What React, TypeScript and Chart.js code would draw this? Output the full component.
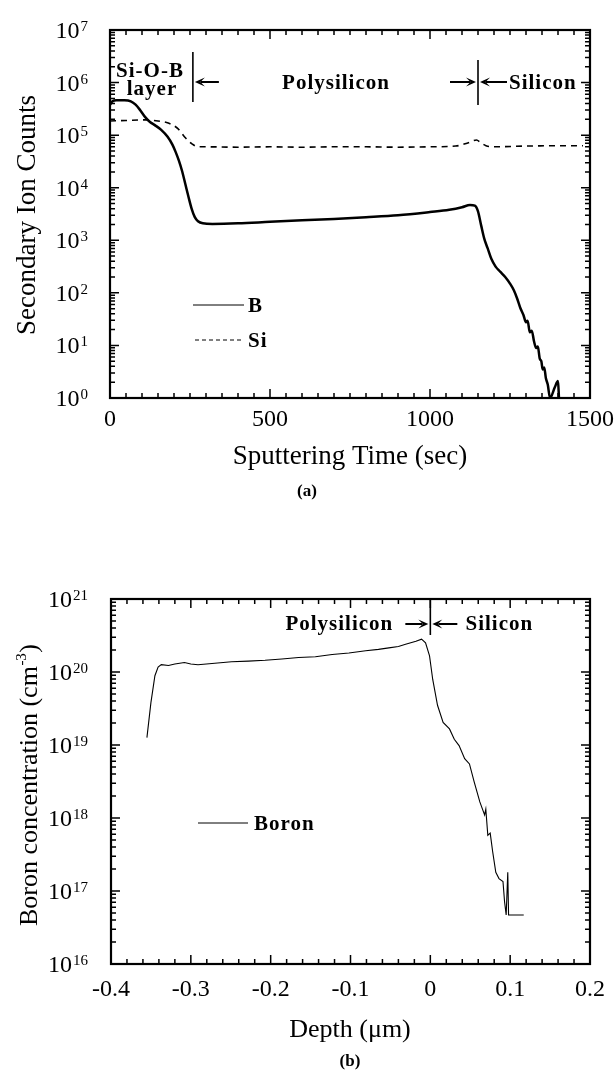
import React, { useEffect, useRef } from "react";
import { Chart, registerables } from "chart.js";

Chart.register(...registerables);

const SERIF = '"Liberation Serif", "Times New Roman", Times, serif';

// ---------- (a) SIMS profile: secondary ion counts vs sputtering time ----------
const timeB = [0, 8, 20, 45, 65, 80, 95, 110, 125, 140, 160, 180, 195, 205, 215, 225, 235, 245, 255, 265, 275, 290, 320, 400, 500, 600, 700, 800, 900, 1000, 1060, 1100, 1125, 1140, 1150, 1160, 1170, 1180, 1192, 1205, 1220, 1235, 1250, 1262, 1272, 1282, 1292, 1300, 1305, 1312, 1318, 1325, 1332, 1337, 1343, 1348, 1352, 1357, 1362, 1368, 1375, 1390, 1400, 1403];
const countsB = [3.8e5, 4.4e5, 4.6e5, 4.6e5, 4.4e5, 3.8e5, 2.95e5, 2.2e5, 1.78e5, 1.55e5, 1.26e5, 9.3e4, 6.6e4, 4.8e4, 3.3e4, 2.1e4, 1.2e4, 6.8e3, 4.0e3, 2.75e3, 2.3e3, 2.1e3, 2.05e3, 2.1e3, 2.25e3, 2.4e3, 2.55e3, 2.75e3, 3.0e3, 3.45e3, 3.8e3, 4.25e3, 4.7e3, 4.55e3, 3.55e3, 1.9e3, 1.05e3, 710, 440, 316, 250, 200, 150, 112, 79, 52, 38, 27.5, 29.5, 17.8, 19, 12, 8.9, 9.5, 5.6, 5.0, 3.5, 3.8, 2.4, 1.8, 1, 1.6, 2.1, 1];
const timeSi = [0, 50, 110, 150, 182, 213, 234, 255, 275, 300, 400, 500, 600, 700, 800, 900, 1000, 1080, 1120, 1145, 1160, 1175, 1200, 1300, 1400, 1478];
const countsSi = [1.86e5, 1.9e5, 1.95e5, 1.86e5, 1.7e5, 1.32e5, 9.1e4, 6.9e4, 6.0e4, 6.0e4, 5.9e4, 6.0e4, 5.9e4, 6.0e4, 6.0e4, 5.9e4, 6.0e4, 6.2e4, 7.2e4, 8.1e4, 7.1e4, 6.3e4, 6.0e4, 6.2e4, 6.3e4, 6.3e4];
const timeTicks = [0, 500, 1000, 1500];
const timeTickLabels = ["0", "500", "1000", "1500"];
const countExponents = [0, 1, 2, 3, 4, 5, 6, 7];
const layerBoundsTime = [259, 1150];

// ---------- (b) Boron concentration vs depth ----------
const depth = [-0.355, -0.35, -0.345, -0.341, -0.337, -0.328, -0.32, -0.308, -0.3, -0.291, -0.27, -0.249, -0.228, -0.207, -0.186, -0.165, -0.144, -0.123, -0.102, -0.081, -0.065, -0.052, -0.04, -0.031, -0.018, -0.011, -0.006, -0.001, 0.003, 0.009, 0.016, 0.024, 0.03, 0.036, 0.043, 0.049, 0.055, 0.062, 0.066, 0.068, 0.0695, 0.072, 0.075, 0.078, 0.082, 0.086, 0.091, 0.093, 0.095, 0.097, 0.098, 0.117];
const boron = [1.26e19, 3.8e19, 8.9e19, 1.17e20, 1.26e20, 1.23e20, 1.29e20, 1.35e20, 1.29e20, 1.26e20, 1.32e20, 1.38e20, 1.41e20, 1.45e20, 1.51e20, 1.58e20, 1.62e20, 1.74e20, 1.82e20, 1.95e20, 2.04e20, 2.14e20, 2.24e20, 2.4e20, 2.63e20, 2.82e20, 2.51e20, 1.66e20, 7.9e19, 3.5e19, 2.04e19, 1.66e19, 1.2e19, 9.8e18, 6.5e18, 5.5e18, 3.1e18, 1.66e18, 1.26e18, 1.1e18, 1.32e18, 5.8e17, 6.2e17, 3.5e17, 1.8e17, 1.48e17, 1.35e17, 7.1e16, 4.7e16, 1.8e17, 4.7e16, 4.7e16];
const depthTicks = [-0.4, -0.3, -0.2, -0.1, 0, 0.1, 0.2];
const depthTickLabels = ["-0.4", "-0.3", "-0.2", "-0.1", "0", "0.1", "0.2"];
const concExponents = [16, 17, 18, 19, 20, 21];
const layerBoundsDepth = [0];

type FrameCfg = {
  xMin: number;
  xMax: number;
  xTicks: number[];
  xTickLabels: string[];
  xMinorStep: number;
  yExps: number[];
  xLabelGap: number;
  yLabelRight: number;
  tickFont: number;
  expFont: number;
  extras: (ctx: CanvasRenderingContext2D, chart: any) => void;
};

function setSpacing(ctx: any, v: string) {
  if ("letterSpacing" in ctx) ctx.letterSpacing = v;
}

function boldText(ctx: CanvasRenderingContext2D, s: string, x: number, y: number, align: CanvasTextAlign, size = 21) {
  ctx.font = `bold ${size}px ${SERIF}`;
  setSpacing(ctx, "1px");
  ctx.textAlign = align;
  ctx.textBaseline = "alphabetic";
  ctx.fillText(s, x, y);
  setSpacing(ctx, "0px");
}

function arrow(ctx: CanvasRenderingContext2D, xFrom: number, y: number, xTo: number) {
  const dir = Math.sign(xTo - xFrom);
  const headLen = 10;
  const hw = 4.5;
  ctx.lineWidth = 2;
  ctx.beginPath();
  ctx.moveTo(xFrom, y);
  ctx.lineTo(xTo - dir * headLen * 0.6, y);
  ctx.stroke();
  ctx.beginPath();
  ctx.moveTo(xTo, y);
  ctx.lineTo(xTo - dir * headLen, y - hw);
  ctx.lineTo(xTo - dir * headLen * 0.55, y);
  ctx.lineTo(xTo - dir * headLen, y + hw);
  ctx.closePath();
  ctx.fill();
}

function vline(ctx: CanvasRenderingContext2D, x: number, y1: number, y2: number) {
  ctx.lineWidth = 1.6;
  ctx.beginPath();
  ctx.moveTo(x, y1);
  ctx.lineTo(x, y2);
  ctx.stroke();
}

function framePlugin(cfg: FrameCfg) {
  return {
    id: "frame",
    afterDraw(chart: any) {
      const ctx: CanvasRenderingContext2D = chart.ctx;
      const { left, right, top, bottom } = chart.chartArea;
      const xs = chart.scales.x;
      const ys = chart.scales.y;
      ctx.save();
      ctx.strokeStyle = "#000";
      ctx.fillStyle = "#000";
      ctx.lineWidth = 1.5;
      ctx.beginPath();
      const n = Math.round((cfg.xMax - cfg.xMin) / cfg.xMinorStep);
      for (let i = 0; i <= n; i++) {
        const v = cfg.xMin + i * cfg.xMinorStep;
        const px = xs.getPixelForValue(v);
        const major = cfg.xTicks.some((t) => Math.abs(t - v) < cfg.xMinorStep / 10);
        const len = major ? 9 : 5;
        ctx.moveTo(px, bottom);
        ctx.lineTo(px, bottom - len);
        ctx.moveTo(px, top);
        ctx.lineTo(px, top + len);
      }
      cfg.yExps.forEach((e, i) => {
        const base = Math.pow(10, e);
        const py = ys.getPixelForValue(base);
        ctx.moveTo(left, py);
        ctx.lineTo(left + 9, py);
        ctx.moveTo(right, py);
        ctx.lineTo(right - 9, py);
        if (i < cfg.yExps.length - 1) {
          for (let k = 2; k <= 9; k++) {
            const pm = ys.getPixelForValue(k * base);
            ctx.moveTo(left, pm);
            ctx.lineTo(left + 5, pm);
            ctx.moveTo(right, pm);
            ctx.lineTo(right - 5, pm);
          }
        }
      });
      ctx.stroke();
      ctx.lineWidth = 2.2;
      ctx.strokeRect(left, top, right - left, bottom - top);

      // x tick labels
      ctx.font = `${cfg.tickFont}px ${SERIF}`;
      ctx.textAlign = "center";
      ctx.textBaseline = "middle";
      cfg.xTicks.forEach((t, i) => {
        ctx.fillText(cfg.xTickLabels[i], xs.getPixelForValue(t), bottom + cfg.xLabelGap);
      });

      // y tick labels 10^n
      ctx.textAlign = "left";
      ctx.textBaseline = "alphabetic";
      cfg.yExps.forEach((e) => {
        const py = ys.getPixelForValue(Math.pow(10, e));
        const es = String(e);
        ctx.font = `${cfg.expFont}px ${SERIF}`;
        const ew = ctx.measureText(es).width;
        ctx.font = `${cfg.tickFont}px ${SERIF}`;
        const bw = ctx.measureText("10").width;
        const xEnd = cfg.yLabelRight;
        ctx.fillText("10", xEnd - ew - bw - 1, py + 8);
        ctx.font = `${cfg.expFont}px ${SERIF}`;
        ctx.fillText(es, xEnd - ew, py + 1);
      });

      cfg.extras(ctx, chart);
      ctx.restore();
    },
  };
}

function points(xs: number[], ys: number[]) {
  return xs.map((x, i) => ({ x, y: ys[i] }));
}

export default function App() {
  const refA = useRef<HTMLCanvasElement>(null);
  const refB = useRef<HTMLCanvasElement>(null);

  useEffect(() => {
    const chartA = new Chart(refA.current as HTMLCanvasElement, {
      type: "line",
      data: {
        datasets: [
          {
            label: "B",
            data: points(timeB, countsB),
            borderColor: "#000",
            borderWidth: 2.5,
            pointRadius: 0,
            cubicInterpolationMode: "monotone",
            fill: false,
          },
          {
            label: "Si",
            data: points(timeSi, countsSi),
            borderColor: "#000",
            borderWidth: 1.6,
            borderDash: [6, 5],
            pointRadius: 0,
            cubicInterpolationMode: "monotone",
            fill: false,
          },
        ],
      },
      options: {
        responsive: false,
        animation: false,
        devicePixelRatio: 1,
        events: [],
        layout: { padding: { left: 110, top: 30, right: 24, bottom: 132 } },
        scales: {
          x: { type: "linear", min: 0, max: 1500, display: false },
          y: { type: "logarithmic", min: 1, max: 1e7, display: false },
        },
        plugins: { legend: { display: false }, tooltip: { enabled: false } },
      },
      plugins: [
        framePlugin({
          xMin: 0,
          xMax: 1500,
          xTicks: timeTicks,
          xTickLabels: timeTickLabels,
          xMinorStep: 50,
          yExps: countExponents,
          xLabelGap: 22,
          yLabelRight: 88,
          tickFont: 24,
          expFont: 15,
          extras: (ctx, chart) => {
            const xs = chart.scales.x;
            const x1 = xs.getPixelForValue(layerBoundsTime[0]);
            const x2 = xs.getPixelForValue(layerBoundsTime[1]);
            vline(ctx, x1, 52, 102);
            vline(ctx, x2, 60, 105);
            arrow(ctx, x1 + 26, 82, x1 + 2);
            arrow(ctx, x2 - 28, 82, x2 - 2);
            arrow(ctx, x2 + 29, 82, x2 + 2);
            boldText(ctx, "Si-O-B", 150, 77, "center");
            boldText(ctx, "layer", 152, 95, "center");
            boldText(ctx, "Polysilicon", 336, 89, "center");
            boldText(ctx, "Silicon", x2 + 31, 89, "left");
            // legend
            ctx.lineWidth = 1;
            ctx.beginPath();
            ctx.moveTo(193, 305);
            ctx.lineTo(244, 305);
            ctx.stroke();
            ctx.setLineDash([4, 3]);
            ctx.beginPath();
            ctx.moveTo(195, 340);
            ctx.lineTo(244, 340);
            ctx.stroke();
            ctx.setLineDash([]);
            boldText(ctx, "B", 248, 312, "left", 21);
            boldText(ctx, "Si", 248, 347, "left", 21);
            // axis titles
            ctx.font = `27px ${SERIF}`;
            ctx.textAlign = "center";
            ctx.textBaseline = "middle";
            ctx.fillText("Sputtering Time (sec)", 350, 457);
            ctx.save();
            ctx.translate(28, 215);
            ctx.rotate(-Math.PI / 2);
            ctx.fillText("Secondary Ion Counts", 0, 0);
            ctx.restore();
            ctx.font = `bold 17px ${SERIF}`;
            ctx.fillText("(a)", 307, 492);
          },
        }),
      ],
    } as any);

    const chartB = new Chart(refB.current as HTMLCanvasElement, {
      type: "line",
      data: {
        datasets: [
          {
            label: "Boron",
            data: points(depth, boron),
            borderColor: "#000",
            borderWidth: 1.1,
            pointRadius: 0,
            tension: 0,
            fill: false,
          },
        ],
      },
      options: {
        responsive: false,
        animation: false,
        devicePixelRatio: 1,
        events: [],
        layout: { padding: { left: 111, top: 69, right: 24, bottom: 111 } },
        scales: {
          x: { type: "linear", min: -0.4, max: 0.2, display: false },
          y: { type: "logarithmic", min: 1e16, max: 1e21, display: false },
        },
        plugins: { legend: { display: false }, tooltip: { enabled: false } },
      },
      plugins: [
        framePlugin({
          xMin: -0.4,
          xMax: 0.2,
          xTicks: depthTicks,
          xTickLabels: depthTickLabels,
          xMinorStep: 0.02,
          yExps: concExponents,
          xLabelGap: 26,
          yLabelRight: 88,
          tickFont: 24,
          expFont: 15,
          extras: (ctx, chart) => {
            const xs = chart.scales.x;
            const top = chart.chartArea.top;
            const x0 = xs.getPixelForValue(layerBoundsDepth[0]);
            vline(ctx, x0, top, 105);
            arrow(ctx, x0 - 25, 94, x0 - 2);
            arrow(ctx, x0 + 27, 94, x0 + 2);
            boldText(ctx, "Polysilicon", x0 - 91, 100, "center");
            boldText(ctx, "Silicon", x0 + 69, 100, "center");
            // legend
            ctx.lineWidth = 1;
            ctx.beginPath();
            ctx.moveTo(198, 293);
            ctx.lineTo(248, 293);
            ctx.stroke();
            boldText(ctx, "Boron", 254, 300, "left", 21);
            // axis titles
            ctx.font = `26px ${SERIF}`;
            ctx.textAlign = "center";
            ctx.textBaseline = "middle";
            ctx.fillText("Depth (\u03bcm)", 350, 500);
            // rotated y title with superscript
            ctx.save();
            ctx.translate(28, 255);
            ctx.rotate(-Math.PI / 2);
            const main = "Boron concentration (cm";
            const sup = "-3";
            const close = ")";
            ctx.font = `26px ${SERIF}`;
            const wMain = ctx.measureText(main).width;
            const wClose = ctx.measureText(close).width;
            ctx.font = `15px ${SERIF}`;
            const wSup = ctx.measureText(sup).width;
            const total = wMain + wSup + wClose + 1;
            let cx = -total / 2;
            ctx.textAlign = "left";
            ctx.textBaseline = "alphabetic";
            ctx.font = `26px ${SERIF}`;
            ctx.fillText(main, cx, 9);
            cx += wMain + 0.5;
            ctx.font = `15px ${SERIF}`;
            ctx.fillText(sup, cx, -2);
            cx += wSup + 0.5;
            ctx.font = `26px ${SERIF}`;
            ctx.fillText(close, cx, 9);
            ctx.restore();
            ctx.font = `bold 17px ${SERIF}`;
            ctx.textAlign = "center";
            ctx.textBaseline = "middle";
            ctx.fillText("(b)", 350, 532);
          },
        }),
      ],
    } as any);

    return () => {
      chartA.destroy();
      chartB.destroy();
    };
  }, []);

  return (
    <div style={{ position: "absolute", left: 0, top: 0, width: 614, height: 1075, background: "#fff" }}>
      <canvas ref={refA} width={614} height={530} style={{ position: "absolute", left: 0, top: 0 }} />
      <canvas ref={refB} width={614} height={545} style={{ position: "absolute", left: 0, top: 530 }} />
    </div>
  );
}
